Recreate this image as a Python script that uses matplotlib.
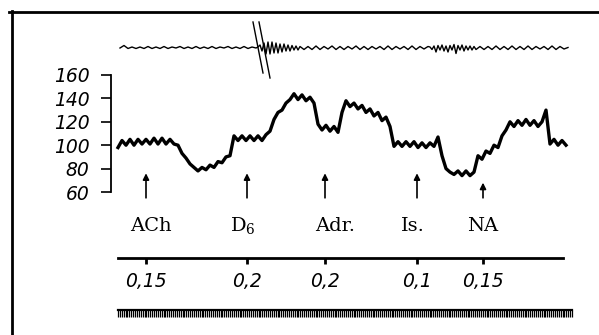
import matplotlib.pyplot as plt
import numpy as np
from matplotlib.lines import Line2D

plt.rcParams['mathtext.fontset'] = 'dejavuserif'

# time in chart-paper units (1 unit ~ 1 px of the recording)
bp_t = np.arange(0, 452, 4)
bp = [98, 104, 100, 105, 100, 105, 101, 105, 101, 106,
      101, 106, 101, 105, 101, 100, 93, 89, 84, 81,
      78, 81, 79, 83, 81, 86, 85, 90, 91, 108,
      104, 108, 104, 108, 104, 108, 104, 109, 112, 122,
      128, 130, 136, 139, 144, 139, 143, 138, 141, 136,
      118, 113, 117, 112, 116, 111, 128, 138, 133, 136,
      131, 134, 128, 131, 125, 128, 121, 124, 116, 99,
      103, 99, 103, 99, 103, 98, 102, 98, 102, 99,
      107, 91, 80, 77, 75, 78, 74, 78, 74, 77,
      91, 88, 95, 93, 100, 98, 108, 113, 120, 116,
      121, 117, 122, 117, 121, 116, 120, 130, 101, 105,
      100, 104, 100]

# upper trace (arbitrary units), sampled faster where it oscillates quickly
resp_t = np.concatenate([np.arange(2, 139, 4), np.arange(140, 183, 2),
                         np.arange(186, 311, 4), np.arange(312, 359, 2),
                         np.arange(362, 451, 4)])
resp = [0, 2.5, -0.5, 1, -0.5, 1, -0.5, 1.5, -0.5, 1,
        -0.5, 1.5, -0.5, 1, 0, 1.5, -0.5, 1, -0.5, 1.5,
        -0.5, 1, -0.5, 1.5, -0.5, 1, 0, 1.5, -0.5, 1,
        -0.5, 1.5, -0.5, 1, 0,
        1, 3, -3, 5, -6, 6, -6, 6, -5, 5, -5, 4, -4, 4, -3, 3, -3, 2.5, -2, 2, -2, 1.5,
        -1.5, 1.5, -1.5, 2, -1.5, 1.5, -1, 2, -1.5, 1.5, -1.5, 1.5, -1, 2, -1.5, 1.5,
        -1.5, 1.5, -1, 1.5, -1.5, 2, -1.5, 1.5, -1, 1.5, -1.5, 2, -1.5, 1.5, -1, 1.5,
        1, -1.5, 2, -4, 2.5, -2, 3, -3, 2, -4, 2.5, -2, 3.5, -5.5, 2.5, -2, 3, -3, 2, -2, 2, -2, 1.5, -1.5,
        1.5, -1.5, 1.5, -1.5, 2, -1.5, 1.5, -1.5, 2, -1.5, 1.5, -1.5, 2, -1.5, 1.5, -1,
        1.5, -1.5, 2, -1.5, 1.5, -1, 0.5]

inj_t = [28, 129, 207, 299, 365]
doses = ['0,15', '0,2', '0,2', '0,1', '0,15']
agents = ['ACh', r'D$_6$', 'Adr.', 'Is.', 'NA']
agent_x = [33, 125, 217, 295, 365]
arrow_top = [76, 76, 76, 76, 68]
yticks = [60, 80, 100, 120, 140, 160]

W, H = 599, 335
fig = plt.figure(figsize=(W / 100, H / 100), dpi=100)

# frame of the scanned page
fig.add_artist(Line2D([9 / W, 1], [1 - 11.5 / H] * 2, color='black', lw=2))
fig.add_artist(Line2D([11.5 / W] * 2, [0, 1 - 11 / H], color='black', lw=2))

# blood pressure
ax = fig.add_axes([111 / W, 1 - 192 / H, 479 / W, 117 / H])
ax.set_xlim(-7, 472)
ax.set_ylim(60, 160)
ax.plot(bp_t, bp, color='black', lw=2.4, clip_on=False)
for s in ['top', 'right', 'bottom']:
    ax.spines[s].set_visible(False)
ax.spines['left'].set_linewidth(1.3)
ax.set_xticks([])
ax.set_yticks(yticks)
ax.tick_params(axis='y', direction='out', length=7.5, width=1.2, pad=8)
for lab in ax.get_yticklabels():
    lab.set_fontsize(13.5)
    lab.set_fontstyle('italic')
ax.patch.set_alpha(0)

for t, top in zip(inj_t, arrow_top):
    ax.annotate('', xy=(t, top), xytext=(t, 55), annotation_clip=False,
                arrowprops=dict(arrowstyle='-|>', color='black', lw=1.2,
                                mutation_scale=9, shrinkA=0, shrinkB=0))
for x, name in zip(agent_x, agents):
    ax.text(x, 31, name, ha='center', va='center', family='DejaVu Serif',
            fontsize=14, clip_on=False)

# upper trace
ax_top = fig.add_axes([111 / W, 1 - 78 / H, 479 / W, 60 / H])
ax_top.set_xlim(-7, 472)
ax_top.set_ylim(-30, 30)
ax_top.plot(resp_t, resp, color='black', lw=1.0)
ax_top.plot([135, 145], [26, -25], color='black', lw=1.0, clip_on=False)
ax_top.plot([141, 152], [26, -30], color='black', lw=1.0, clip_on=False)
ax_top.axis('off')

# injection marker line with doses
ax_inj = fig.add_axes([118 / W, 1 - 258 / H, 445 / W, 0.02])
ax_inj.set_xlim(0, 445)
for s in ['top', 'right', 'left']:
    ax_inj.spines[s].set_visible(False)
ax_inj.spines['bottom'].set_linewidth(2)
ax_inj.set_yticks([])
ax_inj.set_xticks(inj_t)
ax_inj.set_xticklabels(doses, fontsize=13.5, fontstyle='italic')
ax_inj.tick_params(axis='x', direction='out', length=4, width=2, pad=6)
ax_inj.patch.set_alpha(0)

# time marker
ax_tm = fig.add_axes([118 / W, 1 - 310 / H, 454 / W, 0.02])
ax_tm.set_xlim(0, 454)
for s in ['top', 'right', 'left']:
    ax_tm.spines[s].set_visible(False)
ax_tm.spines['bottom'].set_linewidth(1.6)
ax_tm.set_yticks([])
ax_tm.set_xticks(np.arange(0, 455, 1.9))
ax_tm.set_xticklabels([])
ax_tm.tick_params(axis='x', direction='out', length=5, width=0.9)
ax_tm.patch.set_alpha(0)

fig.savefig('out.png', dpi=100)
